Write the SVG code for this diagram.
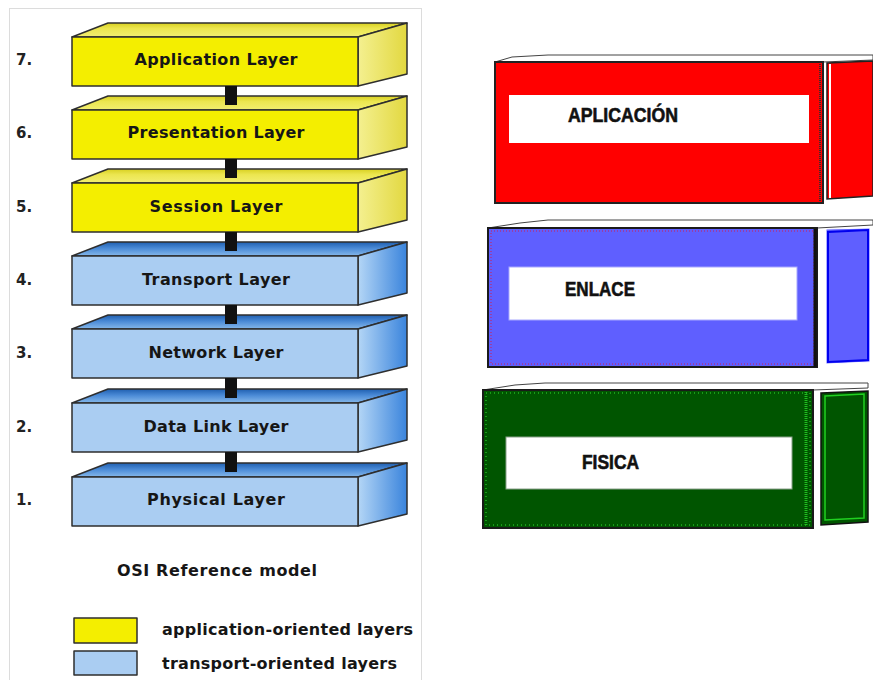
<svg xmlns="http://www.w3.org/2000/svg" width="873" height="680" viewBox="0 0 873 680">
<defs>
<linearGradient id="yTop" x1="0" y1="0" x2="0" y2="1"><stop offset="0" stop-color="#d8d020"/><stop offset="0.4" stop-color="#ece650"/><stop offset="1" stop-color="#f2ee70"/></linearGradient>
<linearGradient id="ySide" x1="0" y1="0" x2="1" y2="0"><stop offset="0" stop-color="#f4f090"/><stop offset="1" stop-color="#e2d840"/></linearGradient>
<linearGradient id="bTop" x1="0" y1="0" x2="0" y2="1"><stop offset="0" stop-color="#1f5fb0"/><stop offset="0.45" stop-color="#4a8ad6"/><stop offset="1" stop-color="#86b8ea"/></linearGradient>
<linearGradient id="bSide" x1="0" y1="0" x2="1" y2="0"><stop offset="0" stop-color="#b4d6f6"/><stop offset="1" stop-color="#3a84dc"/></linearGradient>
</defs>
<style>
.lbl{font-family:"DejaVu Sans","Liberation Sans",sans-serif;font-weight:bold;font-size:16px;fill:#161616;text-anchor:middle}
.num{font-family:"DejaVu Sans","Liberation Sans",sans-serif;font-weight:bold;font-size:15px;fill:#222}
.leg{font-family:"DejaVu Sans","Liberation Sans",sans-serif;font-weight:bold;font-size:16px;fill:#161616}
.edge{stroke:#2e2e2e;stroke-width:1.5;stroke-linejoin:round}
.yf{fill:#f4ee00}.yt{fill:url(#yTop)}.ys{fill:url(#ySide)}
.bf{fill:#aacdf2}.bt{fill:url(#bTop)}.bs{fill:url(#bSide)}
.conn{fill:#111}
.rt{font-family:"Liberation Sans",Arial,sans-serif;font-weight:bold;font-size:20px;fill:#111;stroke:#111;stroke-width:0.6}
.wb{fill:#fff}
</style>
<rect x="0" y="0" width="873" height="680" fill="#fff"/>
<rect x="9.5" y="8.5" width="412" height="690" fill="#fff" stroke="#dcdcdc" stroke-width="1"/>

<g id="layer7">
<polygon class="yt edge" points="72,37 108,23 407,23 358,37"/>
<polygon class="ys edge" points="358,37 407,23 407,74 358,86"/>
<rect class="yf edge" x="72" y="37" width="286" height="49"/>
<text class="num" x="16" y="65">7.</text>
<text class="lbl" x="216" y="65" textLength="163" lengthAdjust="spacing">Application Layer</text>
</g>
<g id="layer6">
<polygon class="yt edge" points="72,110 108,96 407,96 358,110"/>
<polygon class="ys edge" points="358,110 407,96 407,147 358,159"/>
<rect class="yf edge" x="72" y="110" width="286" height="49"/>
<text class="num" x="16" y="138">6.</text>
<text class="lbl" x="216" y="138" textLength="177" lengthAdjust="spacing">Presentation Layer</text>
</g>
<g id="layer5">
<polygon class="yt edge" points="72,183 108,169 407,169 358,183"/>
<polygon class="ys edge" points="358,183 407,169 407,220 358,232"/>
<rect class="yf edge" x="72" y="183" width="286" height="49"/>
<text class="num" x="16" y="212">5.</text>
<text class="lbl" x="216" y="212" textLength="133" lengthAdjust="spacing">Session Layer</text>
</g>
<g id="layer4">
<polygon class="bt edge" points="72,256 108,242 407,242 358,256"/>
<polygon class="bs edge" points="358,256 407,242 407,293 358,305"/>
<rect class="bf edge" x="72" y="256" width="286" height="49"/>
<text class="num" x="16" y="285">4.</text>
<text class="lbl" x="216" y="285" textLength="148" lengthAdjust="spacing">Transport Layer</text>
</g>
<g id="layer3">
<polygon class="bt edge" points="72,329 108,315 407,315 358,329"/>
<polygon class="bs edge" points="358,329 407,315 407,366 358,378"/>
<rect class="bf edge" x="72" y="329" width="286" height="49"/>
<text class="num" x="16" y="358">3.</text>
<text class="lbl" x="216" y="358" textLength="135" lengthAdjust="spacing">Network Layer</text>
</g>
<g id="layer2">
<polygon class="bt edge" points="72,403 108,389 407,389 358,403"/>
<polygon class="bs edge" points="358,403 407,389 407,440 358,452"/>
<rect class="bf edge" x="72" y="403" width="286" height="49"/>
<text class="num" x="16" y="432">2.</text>
<text class="lbl" x="216" y="432" textLength="145" lengthAdjust="spacing">Data Link Layer</text>
</g>
<g id="layer1">
<polygon class="bt edge" points="72,477 108,463 407,463 358,477"/>
<polygon class="bs edge" points="358,477 407,463 407,514 358,526"/>
<rect class="bf edge" x="72" y="477" width="286" height="49"/>
<text class="num" x="16" y="505">1.</text>
<text class="lbl" x="216" y="505" textLength="138" lengthAdjust="spacing">Physical Layer</text>
</g>

<g id="connectors">
<rect class="conn" x="225" y="86" width="12" height="19"/>
<rect class="conn" x="225" y="159" width="12" height="19"/>
<rect class="conn" x="225" y="232" width="12" height="19"/>
<rect class="conn" x="225" y="305" width="12" height="19"/>
<rect class="conn" x="225" y="378" width="12" height="20"/>
<rect class="conn" x="225" y="452" width="12" height="20"/>
</g>

<g id="title">
<text class="lbl" x="217" y="576" textLength="200" lengthAdjust="spacing">OSI Reference model</text>
</g>
<g id="legend">
<rect class="yf edge" x="74" y="618" width="63" height="25"/>
<rect class="bf edge" x="74" y="651" width="63" height="24"/>
<text class="leg" x="162" y="635" textLength="251" lengthAdjust="spacing">application-oriented layers</text>
<text class="leg" x="162" y="669" textLength="235" lengthAdjust="spacing">transport-oriented layers</text>
</g>

<g id="aplicacion">
<polygon points="495,62 512,57 548,55 873,55 873,60 823,62" fill="#fff" stroke="#444" stroke-width="1"/>
<polygon points="827,63 873,61 873,196 827,199" fill="#ff0000" stroke="#222" stroke-width="1.5"/>
<line x1="830" y1="64" x2="830" y2="198" stroke="#fff" stroke-width="2"/>
<rect x="495" y="62" width="328" height="141" fill="#ff0000" stroke="#222" stroke-width="2"/>
<line x1="820" y1="64" x2="820" y2="202" stroke="#333" stroke-width="2" stroke-dasharray="1 1"/>
<rect class="wb" x="509" y="95" width="300" height="48"/>
<text class="rt" x="568" y="122" textLength="110" lengthAdjust="spacingAndGlyphs">APLICACIÓN</text>
</g>

<g id="enlace">
<polygon points="488,228 520,223 548,220 873,220 873,225 817,228" fill="#fff" stroke="#444" stroke-width="1"/>
<polygon points="826,229 870,228 870,362 826,364" fill="#5f5fff" stroke="#fff" stroke-width="1"/>
<polygon points="828,232 868,230 868,360 828,362" fill="#5f5fff" stroke="#0000ee" stroke-width="2"/>
<rect x="488" y="228" width="329" height="139" fill="#5f5fff" stroke="#1a1a1a" stroke-width="2"/>
<rect x="491" y="231" width="323" height="133" fill="none" stroke="#d02050" stroke-width="1" stroke-dasharray="1 2"/>
<line x1="815" y1="229" x2="815" y2="367" stroke="#111" stroke-width="3"/>
<rect x="509" y="267" width="288" height="53" fill="#fff" stroke="#a8a8ff" stroke-width="1"/>
<text class="rt" x="565" y="296" textLength="70" lengthAdjust="spacingAndGlyphs">ENLACE</text>
</g>

<g id="fisica">
<polygon points="483,390 515,385 545,383 868,383 868,388 813,390" fill="#fff" stroke="#444" stroke-width="1"/>
<polygon points="821,393 868,391 868,522 821,525" fill="#005500" stroke="#111" stroke-width="1.5"/>
<polygon points="825,396 864,394 864,518 825,520" fill="#005500" stroke="#20d020" stroke-width="1.5"/>
<rect x="483" y="390" width="330" height="138" fill="#005500" stroke="#1a1a1a" stroke-width="2"/>
<rect x="486" y="393" width="324" height="132" fill="none" stroke="#30e030" stroke-width="1" stroke-dasharray="1 3"/>
<line x1="806" y1="392" x2="806" y2="526" stroke="#20c020" stroke-width="3" stroke-dasharray="1 1"/>
<rect x="506" y="437" width="286" height="52" fill="#fff" stroke="#8aa08a" stroke-width="1"/>
<text class="rt" x="582" y="469" textLength="57" lengthAdjust="spacingAndGlyphs">FISICA</text>
</g>
</svg>
